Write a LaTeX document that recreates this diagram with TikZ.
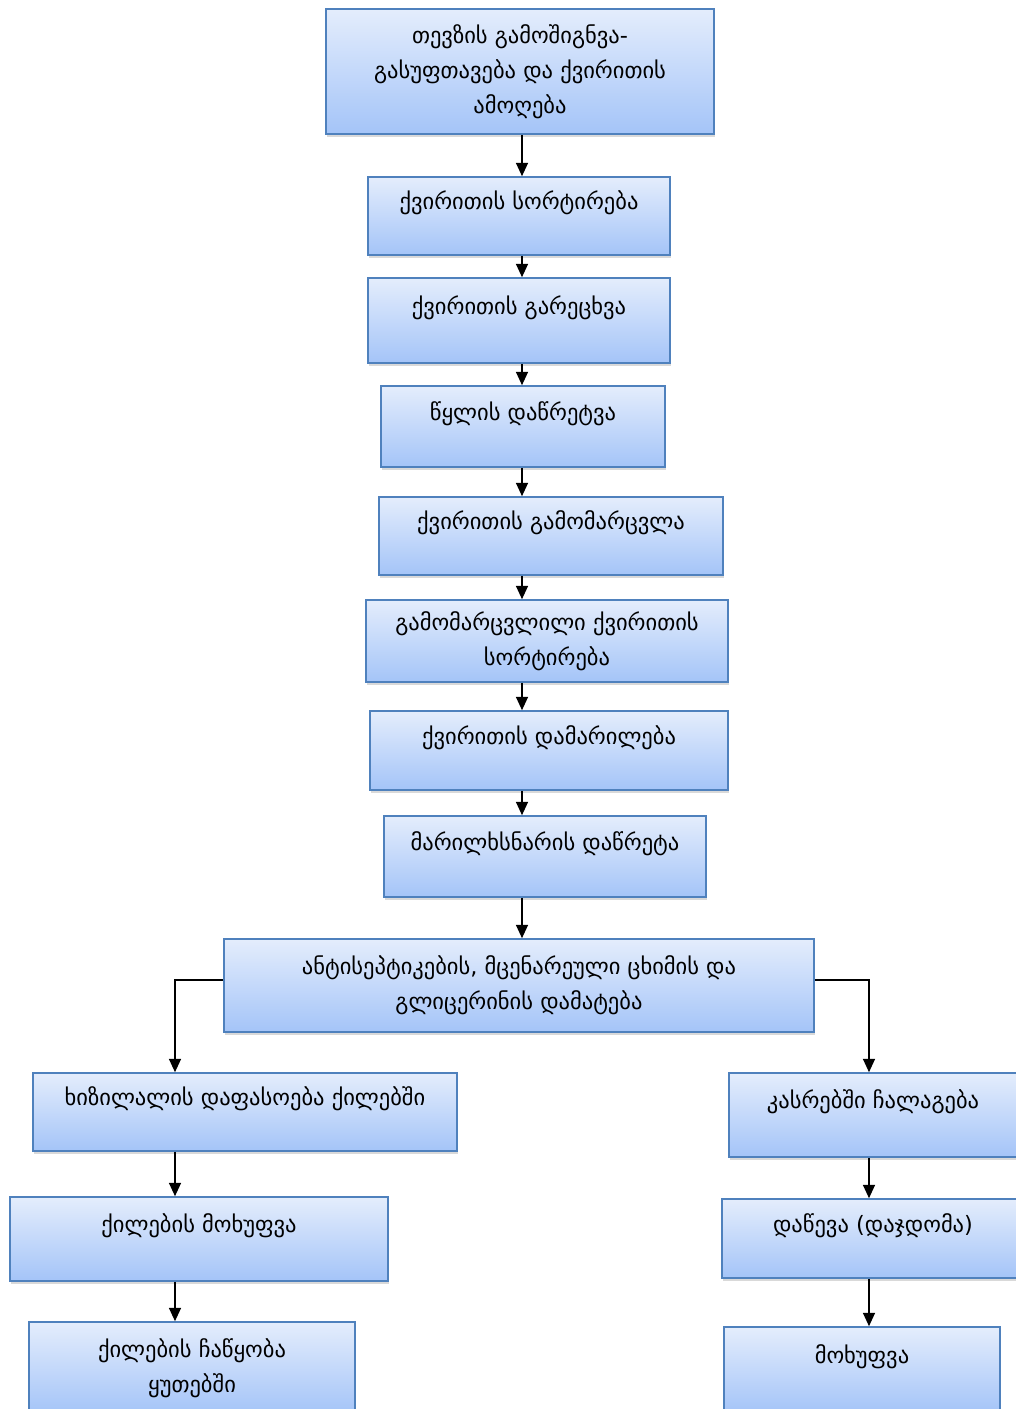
\documentclass[tikz,border=0pt]{standalone}
\usepackage{fontspec}
\setmainfont{DejaVu Sans}
\usetikzlibrary{arrows.meta,shadows}
\definecolor{boxEdge}{RGB}{79,129,189}
\definecolor{boxTop}{RGB}{228,237,252}
\definecolor{boxBottom}{RGB}{164,196,248}
\begin{document}
\begin{tikzpicture}[x=0.025cm,y=-0.025cm,
      stepbox/.style={draw=boxEdge,line width=1.1pt,top color=boxTop,bottom color=boxBottom,
        drop shadow={shadow xshift=0.8pt,shadow yshift=-2.2pt,opacity=0.3},
        align=center,inner sep=2pt,text=black,font=\fontsize{16}{25}\selectfont},
      oneline/.style={stepbox,text height=12pt,text depth=21pt},
      flow/.style={-{Triangle[length=9.5pt,width=8.5pt]},line width=1.1pt,black}]
    \useasboundingbox (0,0) rectangle (1016,1409);

    % Main chain, from the catch to the additives.
    \node[stepbox,minimum width=9.70cm,minimum height=3.125cm] (gut) at (520,71.5)
      {თევზის გამოშიგნვა-\\გასუფთავება და ქვირითის\\ამოღება};
    \node[oneline,minimum width=7.55cm,minimum height=1.95cm] (sort) at (519,216)
      {ქვირითის სორტირება};
    \node[oneline,minimum width=7.55cm,minimum height=2.125cm] (wash) at (519,320.5)
      {ქვირითის გარეცხვა};
    \node[oneline,minimum width=7.10cm,minimum height=2.025cm] (drain) at (523,426.5)
      {წყლის დაწრეტვა};
    \node[oneline,minimum width=8.60cm,minimum height=1.95cm] (grain) at (551,536)
      {ქვირითის გამომარცვლა};
    \node[stepbox,minimum width=9.05cm,minimum height=2.05cm] (resort) at (547,641)
      {გამომარცვლილი ქვირითის\\სორტირება};
    \node[oneline,minimum width=8.95cm,minimum height=1.975cm] (salt) at (549,750.5)
      {ქვირითის დამარილება};
    \node[oneline,minimum width=8.05cm,minimum height=2.025cm] (brine) at (545,856.5)
      {მარილხსნარის დაწრეტა};
    \node[stepbox,minimum width=14.75cm,minimum height=2.325cm] (additive) at (519,985.5)
      {ანტისეპტიკების, მცენარეული ცხიმის და\\გლიცერინის დამატება};

    \coordinate (spine) at (522,0);
    \draw[flow] (gut.south -| spine) -- (sort.north -| spine);
    \draw[flow] (sort.south -| spine) -- (wash.north -| spine);
    \draw[flow] (wash.south -| spine) -- (drain.north -| spine);
    \draw[flow] (drain.south -| spine) -- (grain.north -| spine);
    \draw[flow] (grain.south -| spine) -- (resort.north -| spine);
    \draw[flow] (resort.south -| spine) -- (salt.north -| spine);
    \draw[flow] (salt.south -| spine) -- (brine.north -| spine);
    \draw[flow] (brine.south -| spine) -- (additive.north -| spine);

    % Left branch: jars.
    \node[oneline,minimum width=10.60cm,minimum height=1.95cm] (jarfill) at (245,1112)
      {ხიზილალის დაფასოება ქილებში};
    \node[oneline,minimum width=9.45cm,minimum height=2.10cm] (jarcap) at (199,1239)
      {ქილების მოხუფვა};
    \node[stepbox,minimum width=8.15cm,minimum height=2.30cm] (jarpack) at (192,1368)
      {ქილების ჩაწყობა\\ყუთებში};

    % Right branch: barrels.
    \node[oneline,minimum width=7.20cm,minimum height=2.10cm] (barrel) at (873,1115)
      {კასრებში ჩალაგება};
    \node[oneline,minimum width=7.55cm,minimum height=1.975cm] (settle) at (873,1238.5)
      {დაწევა (დაჯდომა)};
    \node[oneline,minimum width=6.90cm,minimum height=2.15cm] (barcap) at (862,1370)
      {მოხუფვა};

    \coordinate (leftx) at (175,0);
    \coordinate (rightx) at (869,0);
    \draw[flow] ([yshift=4pt]additive.west) -| (jarfill.north -| leftx);
    \draw[flow] ([yshift=4pt]additive.east) -| (barrel.north -| rightx);
    \draw[flow] (jarfill.south -| leftx) -- (jarcap.north -| leftx);
    \draw[flow] (jarcap.south -| leftx) -- (jarpack.north -| leftx);
    \draw[flow] (barrel.south -| rightx) -- (settle.north -| rightx);
    \draw[flow] (settle.south -| rightx) -- (barcap.north -| rightx);
  \end{tikzpicture}
\end{document}
